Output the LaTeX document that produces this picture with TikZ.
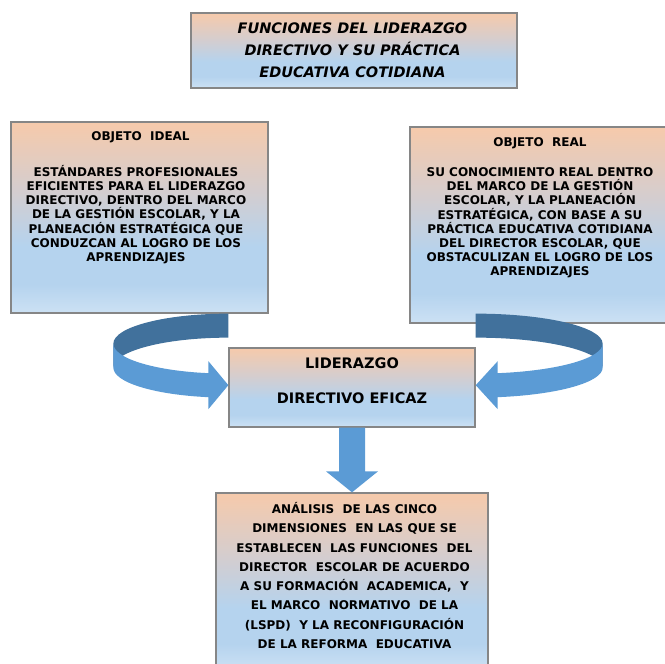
\documentclass[tikz,border=0pt]{standalone}
\usepackage{fontspec}
\setmainfont{DejaVu Sans}
\usetikzlibrary{calc}

\definecolor{boxpeach}{HTML}{F6CAAB}
\definecolor{boxgrey}{HTML}{D5CDCE}
\definecolor{boxblue}{HTML}{B5D3EE}
\definecolor{boxpale}{HTML}{CCE1F4}
\definecolor{boxline}{HTML}{868686}
\definecolor{ribbonlight}{HTML}{5B9BD5}
\definecolor{ribbondark}{HTML}{41719C}

\pgfdeclareverticalshading{boxfill}{100bp}{color(0bp)=(boxpale); color(25bp)=(boxpale); color(32.5bp)=(boxblue); color(42.5bp)=(boxblue); color(57.5bp)=(boxgrey); color(75bp)=(boxpeach); color(100bp)=(boxpeach)}

\begin{document}
\begin{tikzpicture}[x = 1pt, y = 1pt,
	box/.style = {draw = boxline, line width = 1.3pt, shading = boxfill, inner sep = 0pt},
	titletext/.style = {font = \fontsize{14.5}{22}\selectfont\bfseries\itshape, align = center, inner sep = 0pt},
	smalltext/.style = {font = \fontsize{12}{14.2}\selectfont\bfseries, align = center, inner sep = 0pt},
	bigtext/.style = {font = \fontsize{14.5}{35}\selectfont\bfseries, align = center, inner sep = 0pt},
	widetext/.style = {font = \fontsize{12}{19.3}\selectfont\bfseries, align = center, inner sep = 0pt}]

	\useasboundingbox (0, 0) rectangle (665, 664);
	\clip (0, 0) rectangle (665, 664);

	% Boxes

	\node [box, minimum width = 326, minimum height = 75] (titulo) at (354, 613.5) {};
	\node [titletext] (titulotxt) at ($(titulo.center) + (-1.5, 0)$) {FUNCIONES DEL LIDERAZGO\\DIRECTIVO Y SU PRÁCTICA\\EDUCATIVA COTIDIANA};

	\node [box, minimum width = 257, minimum height = 191] (ideal) at (139.5, 446.5) {};
	\node [smalltext] (idealhead) at ($(ideal.center) + (1, 80.5)$) {OBJETO\ \ IDEAL};
	\node [smalltext] (idealtxt) at ($(ideal.center) + (-3.5, 3)$) {ESTÁNDARES PROFESIONALES\\EFICIENTES PARA EL LIDERAZGO\\DIRECTIVO, DENTRO DEL MARCO\\DE LA GESTIÓN ESCOLAR, Y LA\\PLANEACIÓN ESTRATÉGICA QUE\\CONDUZCAN AL LOGRO DE LOS\\APRENDIZAJES};

	\node [box, minimum width = 258, minimum height = 196] (real) at (539, 439) {};
	\node [smalltext] (realhead) at ($(real.center) + (1, 82)$) {OBJETO\ \ REAL};
	\node [smalltext] (realtxt) at ($(real.center) + (1, 2)$) {SU CONOCIMIENTO REAL DENTRO\\DEL MARCO DE LA GESTIÓN\\ESCOLAR, Y LA PLANEACIÓN\\ESTRATÉGICA, CON BASE A SU\\PRÁCTICA EDUCATIVA COTIDIANA\\DEL DIRECTOR ESCOLAR, QUE\\OBSTACULIZAN EL LOGRO DE LOS\\APRENDIZAJES};

	\node [box, minimum width = 246, minimum height = 79] (lider) at (352, 276.5) {};
	\node [bigtext] (lidertxt) at ($(lider.center) + (0, 7)$) {LIDERAZGO\\DIRECTIVO EFICAZ};

	\node [box, minimum width = 272, minimum height = 177] (analisis) at (352, 82.5) {};
	\node [widetext] (analisistxt) at ($(analisis.center) + (2.5, 6)$) {ANÁLISIS\ \ DE LAS CINCO\\DIMENSIONES\ \ EN LAS QUE SE\\ESTABLECEN\ \ LAS FUNCIONES\ \ DEL\\DIRECTOR\ \ ESCOLAR DE ACUERDO\\A SU FORMACIÓN\ \ ACADEMICA,\ \ Y\\EL MARCO\ \ NORMATIVO\ \ DE LA\\(LSPD)\ \ Y LA RECONFIGURACIÓN\\DE LA REFORMA\ \ EDUCATIVA};

	% Curved arrows

	\coordinate (ltop) at (lider.west |- ideal.south);
	\fill [ribbondark] (ltop) arc [start angle = 90, end angle = 180, x radius = 115, y radius = 30] -- ++(0, -24) arc [start angle = 180, end angle = 90, x radius = 115, y radius = 30] -- cycle;
	\fill [ribbonlight] ($(ltop) + (-115, -30)$) arc [start angle = 180, end angle = 260, x radius = 115, y radius = 30] -- ++(0, 12) -- ++(20, -24) -- ++(-20, -24) -- ++(0, 12) arc [start angle = 260, end angle = 180, x radius = 115, y radius = 30] -- cycle;

	\coordinate (rtop) at (lider.east |- ideal.south);
	\fill [ribbondark] (rtop) arc [start angle = 90, end angle = 0, x radius = 127, y radius = 30] -- ++(0, -24) arc [start angle = 0, end angle = 90, x radius = 127, y radius = 30] -- cycle;
	\fill [ribbonlight] ($(rtop) + (127, -30)$) arc [start angle = 0, end angle = -80, x radius = 127, y radius = 30] -- ++(0, 12) -- ++(-22, -24) -- ++(22, -24) -- ++(0, 12) arc [start angle = -80, end angle = 0, x radius = 127, y radius = 30] -- cycle;

	% Down arrow

	\fill [ribbonlight] ($(lider.south) + (-13, 0)$) -- ($(analisis.north) + (-13, 21)$) -- ++(-13, 0) -- (analisis.north) -- ++(26, 21) -- ++(-13, 0) -- ($(lider.south) + (13, 0)$) -- cycle;

\end{tikzpicture}
\end{document}
